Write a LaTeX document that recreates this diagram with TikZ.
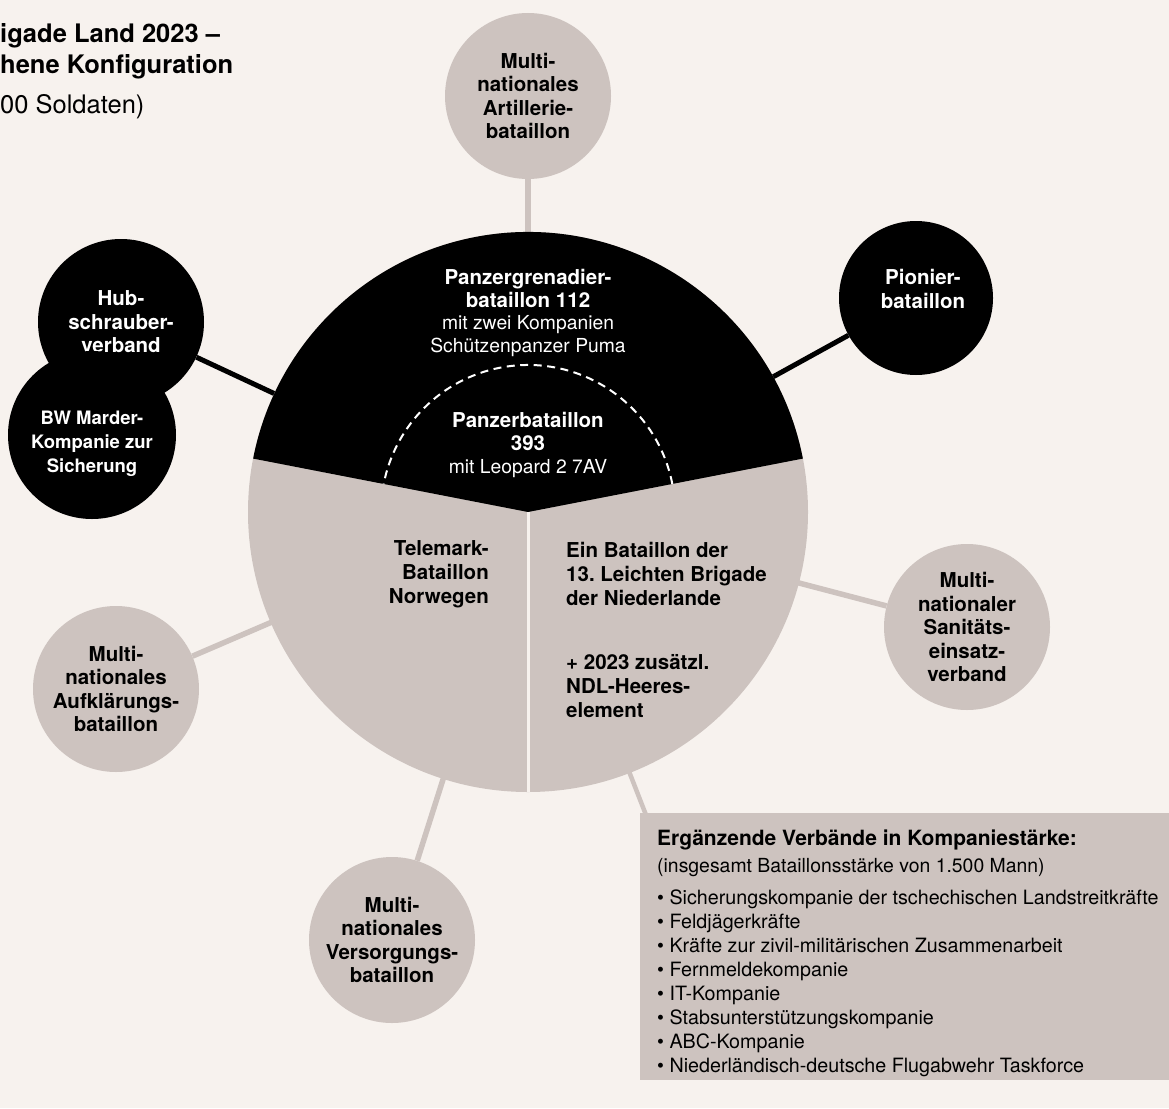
\documentclass[tikz,border=0pt]{standalone}
\usepackage{fontspec}
\setmainfont{TeX Gyre Heros}
\definecolor{bg}{RGB}{247,242,238}
\definecolor{warmgray}{RGB}{205,195,191}
\pgfdeclarelayer{back}
\pgfdeclarelayer{lines}
\pgfsetlayers{back,lines,main}
\frenchspacing
\newcommand{\bigb}[1]{{\fontsize{20.5}{23}\selectfont\bfseries #1}}
\begin{document}
\begin{tikzpicture}[x=1pt,y=1pt,
  sat/.style={circle, minimum size=166pt, inner sep=0pt, align=center,
    font=\fontsize{20.5}{23.5}\selectfont\bfseries},
  graysat/.style={sat, fill=warmgray, text=black},
  blacksat/.style={sat, fill=black, text=white},
  grayline/.style={draw=warmgray, line width=5.5pt},
  blackline/.style={draw=black, line width=5pt},
  bt/.style={font=\fontsize{20.5}{24}\selectfont\bfseries, inner sep=0pt},
  boxt/.style={font=\fontsize{19.7}{24}\selectfont, inner sep=0pt, anchor=base west},
  titlet/.style={font=\fontsize{25.5}{31}\selectfont\bfseries, inner sep=0pt, anchor=base west},
]
\begin{pgfonlayer}{back}
  \fill[bg] (0,0) rectangle (1169,-1108);
\end{pgfonlayer}
\useasboundingbox (0,0) rectangle (1169,-1108);

% title (cut off at left edge)
\node[titlet] (t1) at (0,-43) {igade Land 2023 –};
\node[titlet] (t2) at (0,-74) {hene Konfiguration};
\node[titlet, font=\fontsize{25.5}{31}\selectfont] (t3) at (0,-113) {00 Soldaten)};

% central circle
\node[circle, fill=warmgray, minimum size=560pt, inner sep=0pt] (big) at (528,-512) {};
\fill[black] (big.center) -- ++(11:280pt) arc[start angle=11, end angle=169, radius=280pt] -- cycle;
\draw[white, line width=2pt, dash pattern=on 8pt off 5.5pt]
  (big.center) ++(11:147pt) arc[start angle=11, end angle=169, radius=147pt];
\draw[bg, line width=3pt] (big.center) -- (big.south);

\node[align=center, text=white, inner sep=0pt, font=\fontsize{19.3}{22.5}\selectfont] (pzg) at (528,-313)
  {\bigb{Panzergrenadier-}\\\bigb{bataillon 112}\\mit zwei Kompanien\\Schützenpanzer Puma};
\node[align=center, text=white, inner sep=0pt, font=\fontsize{19.3}{23}\selectfont] (pzb) at (528,-445)
  {\bigb{Panzerbataillon}\\\bigb{393}\\mit Leopard 2 7AV};

\node[bt, align=right, anchor=east] (tel) at (489,-574) {Telemark-\\Bataillon\\Norwegen};
\node[bt, align=left, anchor=west] (ndl) at (566,-574) {Ein Bataillon der\\13. Leichten Brigade\\der Niederlande};
\node[bt, align=left, anchor=west] (ndl2) at (566,-686) {+ 2023 zusätzl.\\NDL-Heeres-\\element};

% satellites
\node[graysat] (art) at (528,-96) {Multi-\\nationales\\Artillerie-\\bataillon};
\node[blacksat, minimum size=154pt] (pio) at (916,-298) {};
\node[bt, text=white, align=center] (piot) at (923,-289) {Pionier-\\bataillon};
\node[blacksat] (hub) at (121,-322) {Hub-\\schrauber-\\verband};
\node[blacksat, minimum size=168pt] (mar) at (92,-435) {};
\node[text=white, align=center, inner sep=0pt, font=\fontsize{18.5}{24}\selectfont\bfseries] (mart) at (92,-444) {BW Marder-\\Kompanie zur\\Sicherung};
\node[graysat] (san) at (967,-627) {Multi-\\nationaler\\Sanitäts-\\einsatz-\\verband};
\node[graysat] (auf) at (116,-689) {Multi-\\nationales\\Aufklärungs-\\bataillon};
\node[graysat] (ver) at (392,-940) {Multi-\\nationales\\Versorgungs-\\bataillon};

% box
\node[fill=warmgray, inner sep=0pt, minimum width=529pt, minimum height=267pt, anchor=north west] (box) at (640,-813) {};
\coordinate (boxc) at (646,-815);
\node[boxt, font=\fontsize{21}{24}\selectfont\bfseries] (bx0) at (657,-845) {Ergänzende Verbände in Kompaniestärke:};
\node[boxt, font=\fontsize{19.4}{24}\selectfont] (bx1) at (657,-872) {(insgesamt Bataillonsstärke von 1.500 Mann)};
\foreach \i/\t in {0/Sicherungskompanie der tschechischen Landstreitkräfte,
                   1/Feldjägerkräfte,
                   2/Kräfte zur zivil-militärischen Zusammenarbeit,
                   3/Fernmeldekompanie,
                   4/IT-Kompanie,
                   5/Stabsunterstützungskompanie,
                   6/ABC-Kompanie,
                   7/Niederländisch-deutsche Flugabwehr Taskforce}
  \node[boxt] (bl\i) at (657,-904.5-24*\i) {\textbullet\ \t};

% connectors
\begin{pgfonlayer}{lines}
  \draw[grayline] (art) -- (big.center);
  \draw[blackline] (pio) -- (big.center);
  \draw[blackline] (hub) -- (big.center);
  \draw[grayline] (san) -- (big.center);
  \draw[grayline] (auf) -- (big.center);
  \draw[grayline] (ver) -- (big.center);
  \draw[grayline, line width=4.5pt] (big.center) -- (boxc);
\end{pgfonlayer}
\end{tikzpicture}
\end{document}
